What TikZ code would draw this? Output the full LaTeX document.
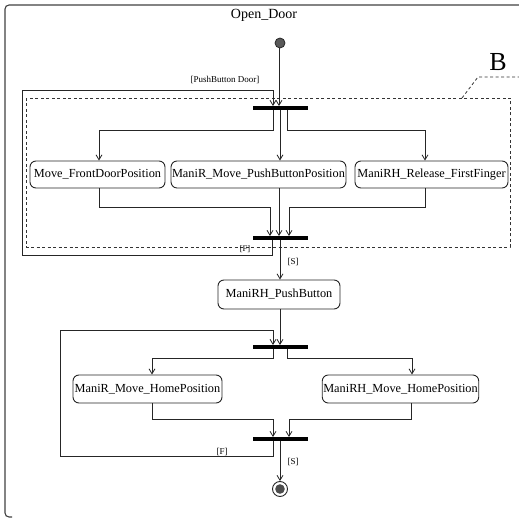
\documentclass[tikz,border=0pt]{standalone}
\usepackage{fontspec}
\setmainfont{Liberation Serif}
\usetikzlibrary{arrows.meta}
\begin{document}
\begin{tikzpicture}[x=1pt,y=-1pt,
  line/.style={draw=black!85,line width=0.9pt},
  arr/.style={line,-{Straight Barb[length=5pt,width=6pt,line width=0.8pt]}},
  actbox/.style={draw=black!85,line width=0.9pt,rounded corners=6pt,minimum height=27pt,
    inner sep=1pt,font=\fontsize{12.3}{14}\selectfont},
  syncbar/.style={fill=black,minimum width=55pt,minimum height=3.5pt,inner sep=0pt},
  guard/.style={font=\fontsize{9}{10}\selectfont,inner sep=0pt},
  region/.style={draw=black!80,line width=0.8pt,dash pattern=on 3pt off 2.5pt}]
\useasboundingbox (0,0) rectangle (519,518);
\clip (0,0) rectangle (519,518);

% enclosing activity frame
\draw[draw=black!75,line width=1.1pt,rounded corners=4pt] (525,5) -- (5,5) -- (5,517) -- (12,517);
\node[font=\fontsize{14}{16}\selectfont] (title) at (264,15) {Open\_Door};

% dashed region B and its leader
\draw[region] (26,98) rectangle (510,247);
\draw[region] (462,98) -- (478,77) -- (522,77);
\node[font=\fontsize{26}{28}\selectfont] (lblB) at (498,62) {B};

% initial and final states
\node[circle,draw=black!85,fill=black!65,line width=0.8pt,minimum size=10pt,inner sep=0pt] (init) at (280,43) {};
\node[circle,draw=black!85,line width=0.9pt,minimum size=15pt,inner sep=0pt] (final) at (280,489) {};
\fill[black!70] (final.center) circle (4.8pt);

% synchronisation bars
\node[syncbar] (bar1) at (280,108) {};
\node[syncbar] (bar2) at (280,238) {};
\node[syncbar] (bar3) at (280,347) {};
\node[syncbar] (bar4) at (280,439) {};

% actions
\node[actbox,minimum width=135pt] (a1) at (97.5,174.5) {Move\_FrontDoorPosition};
\node[actbox,minimum width=173pt] (a2) at (258.5,174.5) {ManiR\_Move\_PushButtonPosition};
\node[actbox,minimum width=153pt] (a3) at (431.5,174.5) {ManiRH\_Release\_FirstFinger};
\node[actbox,minimum width=122pt,minimum height=29pt] (pb) at (279,294.5) {ManiRH\_PushButton};
\node[actbox,minimum width=149pt,minimum height=28pt] (h1) at (147.5,389) {ManiR\_Move\_HomePosition};
\node[actbox,minimum width=155pt,minimum height=28pt] (h2) at (400.5,389) {ManiRH\_Move\_HomePosition};

% guards
\node[guard] (gpush) at (225,80) {[PushButton Door]};
\node[guard,font=\fontsize{8.5}{9}\selectfont] (gf1) at (245,249) {[F]};
\node[guard] (gs1) at (293,262) {[S]};
\node[guard] (gf2) at (222,452) {[F]};
\node[guard] (gs2) at (293,462) {[S]};

% upper fork / join
\draw[arr] ([xshift=-1pt]init.south) -- ([xshift=-1pt]bar1.north);
\draw[arr] ([xshift=-8pt]bar2.south) |- (22,255) |- (273,90) -- ([xshift=-7pt]bar1.north);
\draw[arr] ([xshift=-7pt]bar1.south) -- ++(0,20.25) -| ([xshift=1.5pt]a1.north);
\draw[arr] (bar1.south) -- (bar1.south |- a2.north);
\draw[arr] ([xshift=7pt]bar1.south) -- ++(0,20.25) -| ([xshift=-6.5pt]a3.north);
\draw[arr] ([xshift=1.5pt]a1.south) -- ++(0,19) -| ([xshift=-10pt]bar2.north);
\draw[arr] ([xshift=-1pt]bar2.north |- a2.south) -- ([xshift=-1pt]bar2.north);
\draw[arr] ([xshift=-6.5pt]a3.south) -- ++(0,19) -| ([xshift=9pt]bar2.north);
\draw[arr] (bar2.south) -- (bar2.south |- pb.north);

% lower fork / join
\draw[arr] (bar3.north |- pb.south) -- (bar3.north);
\draw[arr] ([xshift=-7pt]bar4.south) |- (60,456) |- (273,330) -- ([xshift=-7pt]bar3.north);
\draw[arr] ([xshift=-7pt]bar3.south) -- ++(0,9.25) -| ([xshift=4.5pt]h1.north);
\draw[arr] ([xshift=7pt]bar3.south) -- ++(0,9.25) -| ([xshift=11.5pt]h2.north);
\draw[arr] ([xshift=4.5pt]h1.south) -- ++(0,16) -| ([xshift=-7pt]bar4.north);
\draw[arr] ([xshift=11pt]h2.south) -- ++(0,16) -| ([xshift=9pt]bar4.north);
\draw[arr] (bar4.south) -- (final.north);
\end{tikzpicture}
\end{document}
